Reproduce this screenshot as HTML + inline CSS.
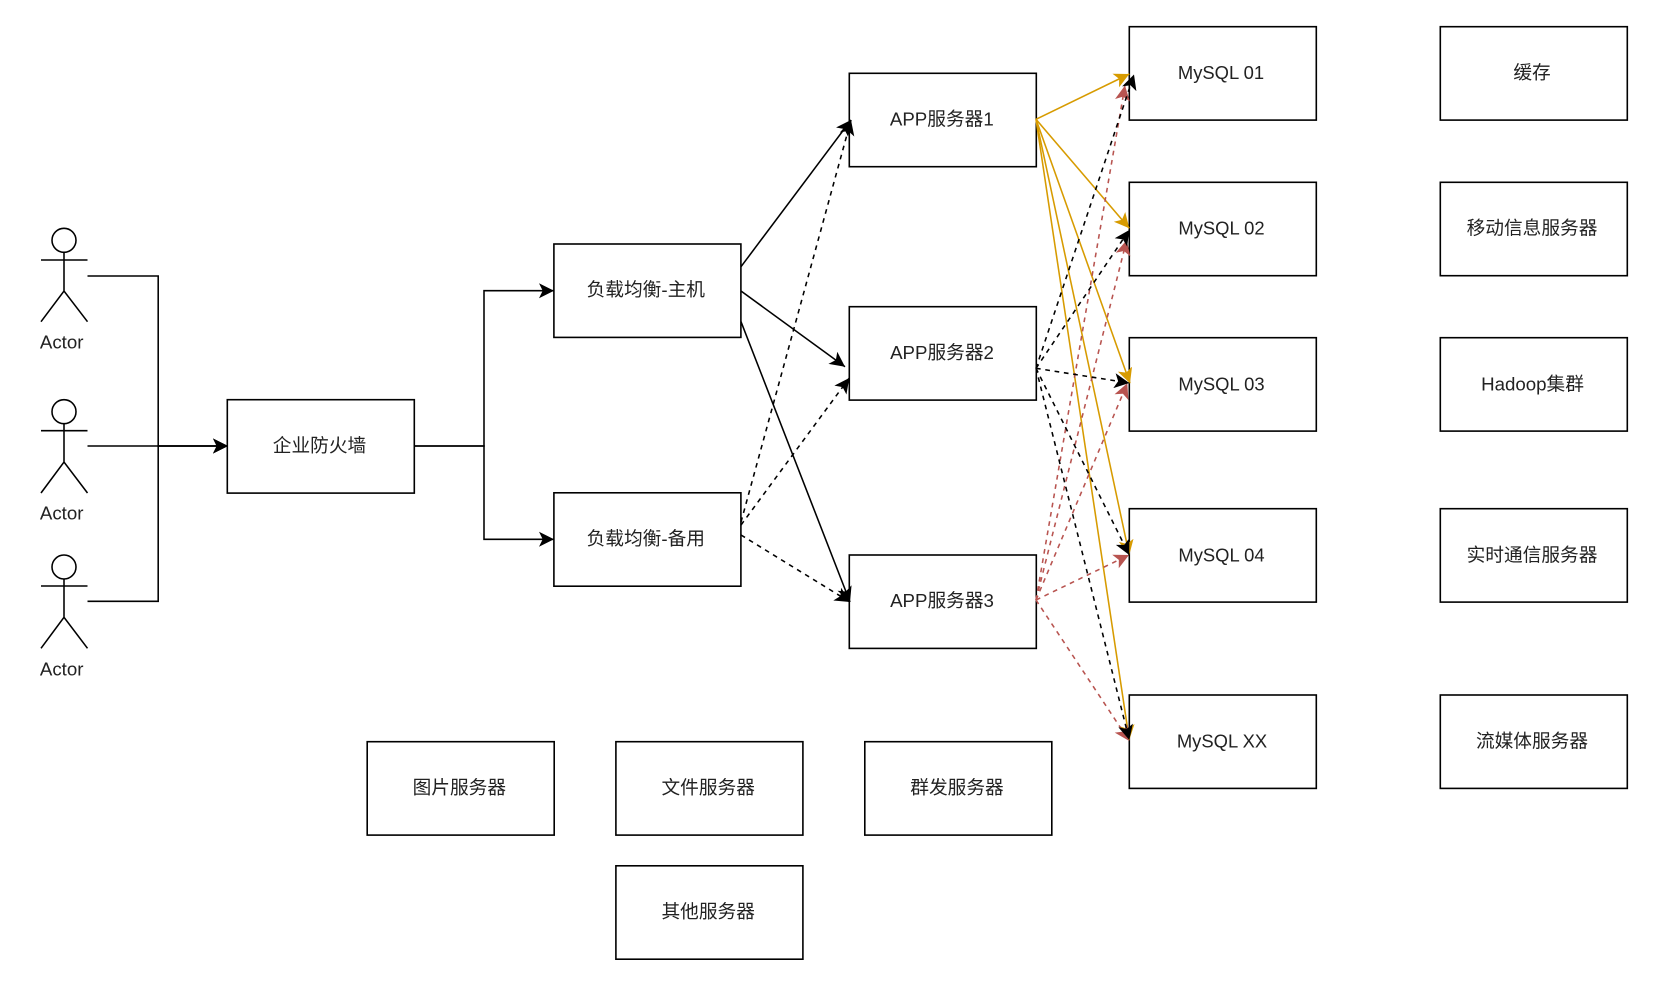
<!DOCTYPE html>
<html><head><meta charset="utf-8"><style>
html,body{margin:0;padding:0;background:#fff}
svg{display:block}
text{font-family:"Liberation Sans","Noto Sans CJK SC",sans-serif;font-size:18.7px;fill:#222;text-anchor:middle;dominant-baseline:central}
.m{font-size:18.4px}
rect{fill:#fff;stroke:#000;stroke-width:1.6}
line,path{fill:none;stroke-width:1.56}
.k{stroke:#000}.o{stroke:#d79b00}.r{stroke:#b85450}.d{stroke-dasharray:4.7 4.7}
</style></head><body>
<svg width="1677" height="993" viewBox="0 0 1677 993" xmlns="http://www.w3.org/2000/svg">
<defs>
<marker id="ak" markerUnits="userSpaceOnUse" markerWidth="18" markerHeight="18" refX="15" refY="9" orient="auto"><polygon points="15,9 0,1.5 3.7,9 0,16.5" fill="#000"/></marker>
<marker id="ao" markerUnits="userSpaceOnUse" markerWidth="18" markerHeight="18" refX="15" refY="9" orient="auto"><polygon points="15,9 0,1.5 3.7,9 0,16.5" fill="#d79b00"/></marker>
<marker id="ar" markerUnits="userSpaceOnUse" markerWidth="18" markerHeight="18" refX="15" refY="9" orient="auto"><polygon points="15,9 0,1.5 3.7,9 0,16.5" fill="#b85450"/></marker>
</defs>

<!-- actors -->
<g stroke="#000" stroke-width="1.56" fill="none">
<path stroke="#000" d="M64 252.3V291M41 260H87.5M41 321.7L64 291L87.5 321.7"/><circle cx="64" cy="240.3" r="12" fill="#fff"/>
<path stroke="#000" d="M64 423.7V462M41 430.7H87.5M41 493L64 462L87.5 493"/><circle cx="64" cy="411.7" r="12" fill="#fff"/>
<path stroke="#000" d="M64 579V617.3M41 586H87.5M41 648.3L64 617.3L87.5 648.3"/><circle cx="64" cy="567" r="12" fill="#fff"/>
</g>
<text x="61.7" y="342">Actor</text>
<text x="61.7" y="513">Actor</text>
<text x="61.7" y="669">Actor</text>

<!-- left connectors -->
<path class="k" d="M87.5 276H158.2V446H228" marker-end="url(#ak)"/>
<path class="k" d="M87.5 446H228" marker-end="url(#ak)"/>
<path class="k" d="M87.5 601.3H158.2V446H228" marker-end="url(#ak)"/>
<path class="k" d="M414 446H484V290.7H554" marker-end="url(#ak)"/>
<path class="k" d="M414 446H484V539.3H554" marker-end="url(#ak)"/>

<!-- boxes -->
<rect x="227.3" y="399.7" width="187" height="93.4"/>
<rect x="553.9" y="244" width="187" height="93.4"/>
<rect x="553.9" y="492.8" width="187" height="93.4"/>
<rect x="849.3" y="73.3" width="187" height="93.4"/>
<rect x="849.3" y="306.7" width="187" height="93.4"/>
<rect x="849.3" y="555" width="187" height="93.4"/>
<rect x="1129.3" y="26.7" width="187" height="93.4"/>
<rect x="1129.3" y="182.3" width="187" height="93.4"/>
<rect x="1129.3" y="337.7" width="187" height="93.4"/>
<rect x="1129.3" y="508.7" width="187" height="93.4"/>
<rect x="1129.3" y="695" width="187" height="93.4"/>
<rect x="1440.3" y="26.7" width="187" height="93.4"/>
<rect x="1440.3" y="182.3" width="187" height="93.4"/>
<rect x="1440.3" y="337.7" width="187" height="93.4"/>
<rect x="1440.3" y="508.7" width="187" height="93.4"/>
<rect x="1440.3" y="695" width="187" height="93.4"/>
<rect x="367.2" y="741.7" width="187" height="93.4"/>
<rect x="615.9" y="741.7" width="187" height="93.4"/>
<rect x="864.8" y="741.7" width="187" height="93.4"/>
<rect x="615.9" y="865.8" width="187" height="93.4"/>

<!-- LB to APP -->
<line class="k" x1="741" y1="266.7" x2="851" y2="120" marker-end="url(#ak)"/>
<line class="k" x1="741" y1="291" x2="845" y2="366.7" marker-end="url(#ak)"/>
<line class="k" x1="741" y1="321.7" x2="850" y2="602" marker-end="url(#ak)"/>
<line class="k d" x1="741" y1="522" x2="851" y2="120" marker-end="url(#ak)"/>
<line class="k d" x1="741" y1="525" x2="849.3" y2="378" marker-end="url(#ak)"/>
<line class="k d" x1="741" y1="535" x2="850" y2="602" marker-end="url(#ak)"/>

<!-- APP1 orange -->
<line class="o" x1="1036" y1="119.3" x2="1129.3" y2="74" marker-end="url(#ao)"/>
<line class="o" x1="1036" y1="119.3" x2="1129.3" y2="228.3" marker-end="url(#ao)"/>
<line class="o" x1="1036" y1="119.3" x2="1130" y2="383.3" marker-end="url(#ao)"/>
<line class="o" x1="1036" y1="119.3" x2="1129.3" y2="555" marker-end="url(#ao)"/>
<line class="o" x1="1036" y1="119.3" x2="1129.3" y2="740" marker-end="url(#ao)"/>

<!-- APP3 red -->
<line class="r d" x1="1036" y1="600" x2="1125" y2="85.5" marker-end="url(#ar)"/>
<line class="r d" x1="1036" y1="600" x2="1126.7" y2="240" marker-end="url(#ar)"/>
<line class="r d" x1="1036" y1="600" x2="1127.3" y2="383.3" marker-end="url(#ar)"/>
<line class="r d" x1="1036" y1="600" x2="1129" y2="555" marker-end="url(#ar)"/>
<line class="r d" x1="1036" y1="600" x2="1129.3" y2="741" marker-end="url(#ar)"/>

<!-- APP2 black -->
<line class="k d" x1="1036" y1="368.3" x2="1134" y2="74.5" marker-end="url(#ak)"/>
<line class="k d" x1="1036" y1="368.3" x2="1129.3" y2="230" marker-end="url(#ak)"/>
<line class="k d" x1="1036" y1="368.3" x2="1129.3" y2="383" marker-end="url(#ak)"/>
<line class="k d" x1="1036" y1="368.3" x2="1129.3" y2="555" marker-end="url(#ak)"/>
<line class="k d" x1="1036" y1="368.3" x2="1129.3" y2="740" marker-end="url(#ak)"/>

<!-- labels -->
<text x="319.5" y="445.5">企业防火墙</text>
<text x="645.8" y="289.5">负载均衡-主机</text>
<text x="645.8" y="538.5">负载均衡-备用</text>
<text x="941.8" y="119">APP服务器1</text>
<text x="942" y="352.5">APP服务器2</text>
<text x="942" y="600.5">APP服务器3</text>
<text class="m" x="1221" y="72.7">MySQL 01</text>
<text class="m" x="1221.5" y="228">MySQL 02</text>
<text class="m" x="1221.5" y="384">MySQL 03</text>
<text class="m" x="1221.5" y="555">MySQL 04</text>
<text class="m" x="1222" y="741">MySQL XX</text>
<text x="1532" y="72.7">缓存</text>
<text x="1532" y="228">移动信息服务器</text>
<text x="1532.5" y="384">Hadoop集群</text>
<text x="1532" y="555">实时通信服务器</text>
<text x="1532" y="741">流媒体服务器</text>
<text x="459.3" y="787.5">图片服务器</text>
<text x="708.2" y="787.5">文件服务器</text>
<text x="957" y="787.5">群发服务器</text>
<text x="708.2" y="911.5">其他服务器</text>
</svg>
</body></html>
